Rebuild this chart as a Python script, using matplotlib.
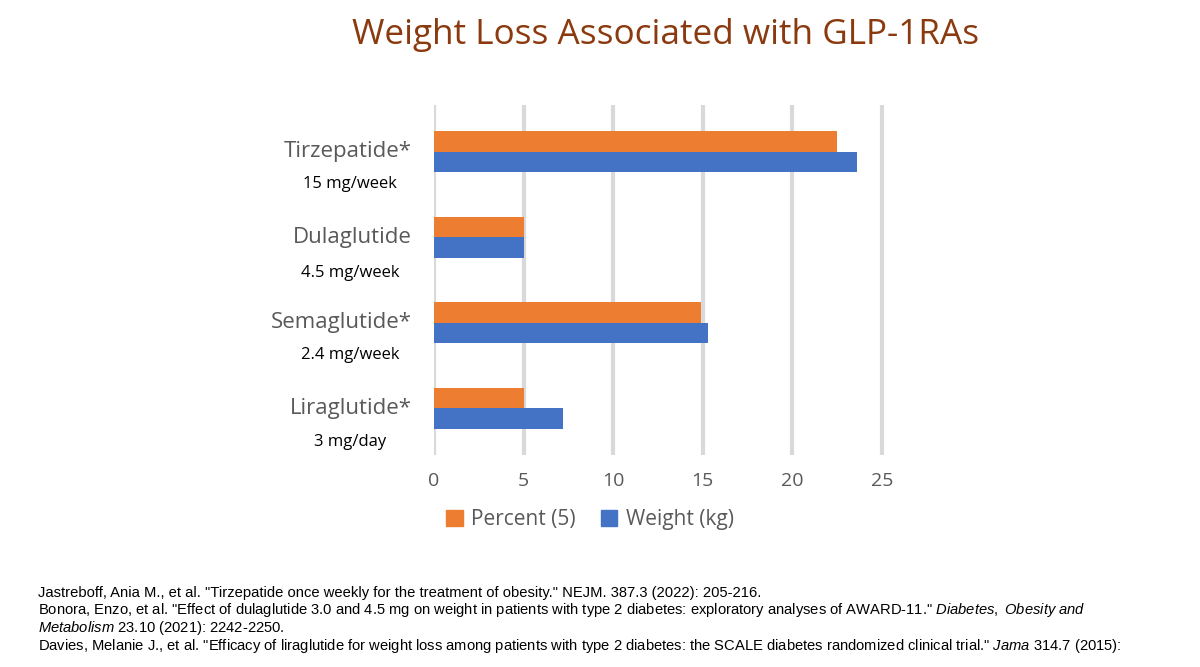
import matplotlib
matplotlib.use("Agg")
import matplotlib.pyplot as plt
import matplotlib.transforms as mtrans
from matplotlib.patches import Patch

plt.rcParams["mathtext.fontset"] = "custom"
plt.rcParams["mathtext.it"] = "Liberation Sans:italic"
plt.rcParams["mathtext.rm"] = "Liberation Sans"

drugs = ["Tirzepatide*", "Dulaglutide", "Semaglutide*", "Liraglutide*"]
doses = ["15 mg/week", "4.5 mg/week", "2.4 mg/week", "3 mg/day"]
percent = [22.5, 5.0, 14.9, 5.0]
weight = [23.6, 5.0, 15.3, 7.2]
xticks = [0, 5, 10, 15, 20, 25]

FONT = ["Open Sans", "DejaVu Sans"]
fig = plt.figure(figsize=(12, 6.67), dpi=100)
ax = fig.add_axes([434/1200, 1-455/667, (882-434)/1200*25.4/25, 350/667])
ys = [3, 2, 1, 0]
h = 0.24
for i, y in enumerate(ys):
    ax.barh(y + h/2, percent[i], height=h, color="#ED7D31", zorder=3)
    ax.barh(y - h/2, weight[i], height=h, color="#4472C4", zorder=3)
ax.set_xlim(0, 25.4)
ax.set_ylim(-0.55, 3.55)
ax.set_xticks(xticks)
ax.set_xticklabels([str(t) for t in xticks], fontsize=14, color="#595959", family=FONT)
ax.set_yticks([])
ax.grid(axis="x", color="#D9D9D9", linewidth=3, zorder=0)
ax.tick_params(axis="x", length=0, pad=12)
for s in ax.spines.values():
    s.set_visible(False)

tr = mtrans.blended_transform_factory(fig.transFigure, ax.transData)
off = [0.38, 0.42, 0.38, 0.4]
for i, y in enumerate(ys):
    fig.text(412/1200, y, drugs[i], transform=tr, ha="right", va="center",
             fontsize=16, color="#595959", family=FONT)
    fig.text(350/1200, y - off[i], doses[i], transform=tr, ha="center", va="center",
             fontsize=12, color="black", family=FONT)

fig.text(0.555, 1-35/667, "Weight Loss Associated with GLP-1RAs", ha="center", va="center",
         fontsize=25.3, color="#8B3A0F", family=FONT)

fig.legend(handles=[Patch(color="#ED7D31", label="Percent (5)"), Patch(color="#4472C4", label="Weight (kg)")],
           loc="center", bbox_to_anchor=(590/1200, 1-520/667), ncol=2, frameon=False,
           prop={"family": FONT, "size": 15}, labelcolor="#595959",
           handlelength=0.8, handleheight=0.8, columnspacing=1.2, handletextpad=0.4)

fs = 10.6
ff = ["Liberation Sans"]
fig.text(38/1200, 1-593/667, 'Jastreboff, Ania M., et al. "Tirzepatide once weekly for the treatment of obesity." NEJM. 387.3 (2022): 205-216.',
         fontsize=fs, family=ff, va="center")
fig.text(38/1200, 1-610/667, 'Bonora, Enzo, et al. "Effect of dulaglutide 3.0 and 4.5 mg on weight in patients with type 2 diabetes: exploratory analyses of AWARD-11." $\\it{Diabetes,\\ Obesity\\ and}$',
         fontsize=fs, family=ff, va="center")
fig.text(38/1200, 1-628/667, '$\\it{Metabolism}$ 23.10 (2021): 2242-2250.', fontsize=fs, family=ff, va="center")
fig.text(38/1200, 1-646/667, 'Davies, Melanie J., et al. "Efficacy of liraglutide for weight loss among patients with type 2 diabetes: the SCALE diabetes randomized clinical trial." $\\it{Jama}$ 314.7 (2015):',
         fontsize=fs, family=ff, va="center")
fig.savefig("out.png", dpi=100, facecolor="white")
